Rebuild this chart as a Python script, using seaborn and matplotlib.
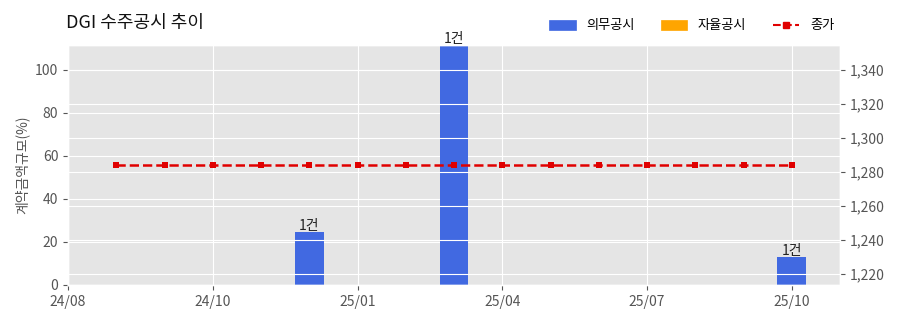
import matplotlib
matplotlib.use("Agg")
import matplotlib.pyplot as plt
import matplotlib.ticker as mticker
from matplotlib.patches import Patch
from matplotlib.lines import Line2D
import seaborn as sns
import pandas as pd

plt.style.use("ggplot")
FONT = ["Noto Sans CJK KR", "DejaVu Sans"]
plt.rcParams["font.family"] = FONT

# ---- data ----
month_idx = list(range(15))
contract_pct = [0, 0, 0, 0, 24.7, 0, 0, 111.6, 0, 0, 0, 0, 0, 0, 13.0]
contract_cnt = [0, 0, 0, 0, 1, 0, 0, 1, 0, 0, 0, 0, 0, 0, 1]
close_price = [1284] * 15
tick_pos = [-1, 2, 5, 8, 11, 14]
tick_labels = ["24/08", "24/10", "25/01", "25/04", "25/07", "25/10"]

df = pd.DataFrame({"idx": month_idx, "pct": contract_pct,
                   "cnt": contract_cnt, "close": close_price})

fig = plt.figure(figsize=(9, 3.23), dpi=100)
ax = fig.add_axes([68 / 900, 1 - 285 / 323, (840 - 68) / 900, (285 - 45) / 323])

sns.barplot(data=df, x="idx", y="pct", ax=ax, color="#4169E1",
            width=0.6, native_scale=True, saturation=1, linewidth=0, zorder=2)
ax.set_xlim(-1, 15)
ax.set_ylim(0, 111.6)
ax.set_xticks(tick_pos)
ax.set_xticklabels(tick_labels)
ax.set_xlabel("")
ax.set_ylabel("계약금액규모(%)", color="#555555", fontsize=10)
ax.tick_params(axis="both", colors="#555555", labelsize=10)
ax.yaxis.set_major_locator(mticker.MultipleLocator(20))

for i, v, c in zip(month_idx, contract_pct, contract_cnt):
    if c > 0:
        ax.annotate(f"{c}건", (i, v), xytext=(0, -1), textcoords="offset points",
                    ha="center", va="bottom", fontsize=10, color="#222222",
                    annotation_clip=False)

ax2 = ax.twinx()
sns.lineplot(data=df, x="idx", y="close", ax=ax2, color="#E00000",
             linestyle="--", linewidth=1.8, marker="s", markersize=5,
             markeredgewidth=0)
ax2.set_ylim(close_price[0] * 0.945, close_price[0] * 1.055)
ax2.set_xlim(-1, 15)
ax2.xaxis.grid(False)
ax2.set_ylabel("")
ax2.yaxis.set_major_locator(mticker.MultipleLocator(20))
ax2.yaxis.set_major_formatter(mticker.FuncFormatter(lambda v, p: f"{v:,.0f}"))
ax2.tick_params(axis="y", colors="#555555", labelsize=10)

fig.text(66 / 900, 1 - 23 / 323, "DGI 수주공시 추이", fontsize=13,
         ha="left", va="center", color="#111111")

handles = [Patch(color="#4169E1", label="의무공시"),
           Patch(color="orange", label="자율공시"),
           Line2D([0], [0], color="#E00000", linestyle="--", marker="s",
                  markersize=4, linewidth=1.5, label="종가")]
fig.legend(handles=handles, loc="center right", ncol=3, frameon=False,
           bbox_to_anchor=(846 / 900, 1 - 26 / 323), fontsize=9.5,
           handlelength=2.0, columnspacing=2.0)

fig.savefig("out.png", dpi=100)
